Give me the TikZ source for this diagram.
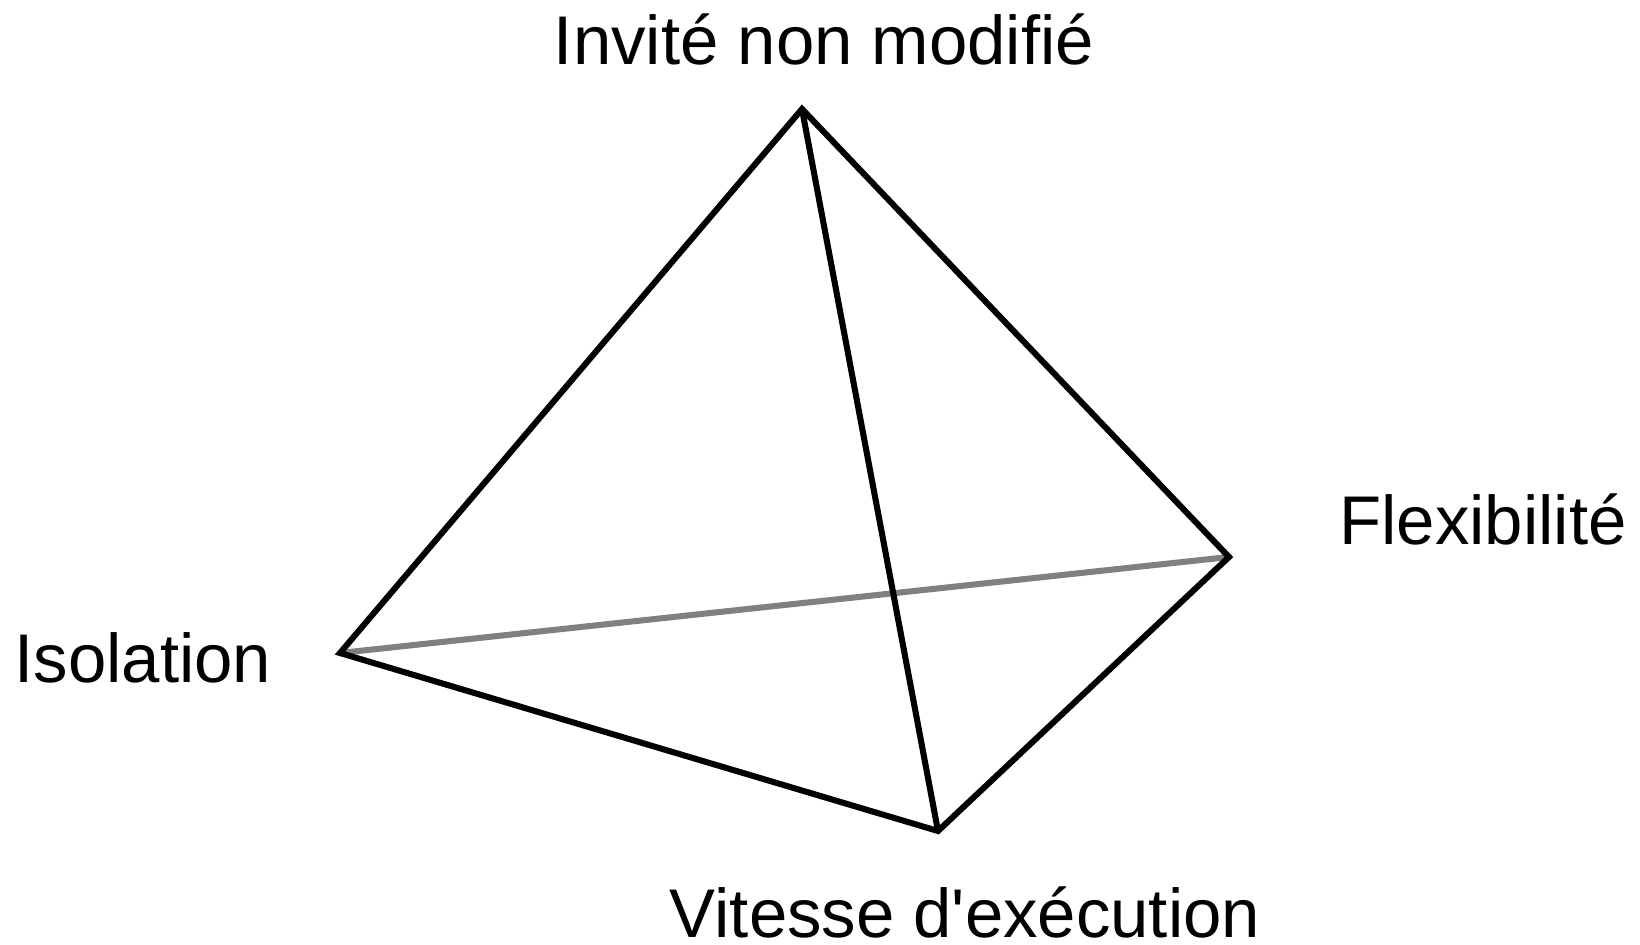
\documentclass[tikz,border=0pt]{standalone}
\usepackage{fontspec}
\setmainfont{Liberation Sans}
\usepackage{tikz}

\tikzset{
  edge/.style={line width=4.3pt,black},
  hidden/.style={line width=4.3pt,gray},
  corner/.style={anchor=base,inner sep=0pt}
}

\begin{document}
\begin{tikzpicture}[x=0.025cm,y=-0.025cm,font=\fontsize{49}{58}\selectfont]
\useasboundingbox (0,0) rectangle (1640,945);
% vertices
\coordinate (top) at (802,109);
\coordinate (iso) at (340,653);
\coordinate (flex) at (1229,557);
\coordinate (vit) at (938,831);
% labels
\node[corner] (ltop) at (824,65) {Invité non modifié};
\node[corner] (liso) at (143,682) {Isolation};
\node[corner] (lflex) at (1483,544) {Flexibilité};
\node[corner] (lvit) at (965,937) {Vitesse d\textquotesingle exécution};
% edges
\draw[hidden] (iso) -- (flex);
\draw[edge,line join=miter] (iso) -- (top) -- (flex) -- (vit) -- cycle;
\draw[edge] (top) -- (vit);
\end{tikzpicture}
\end{document}
